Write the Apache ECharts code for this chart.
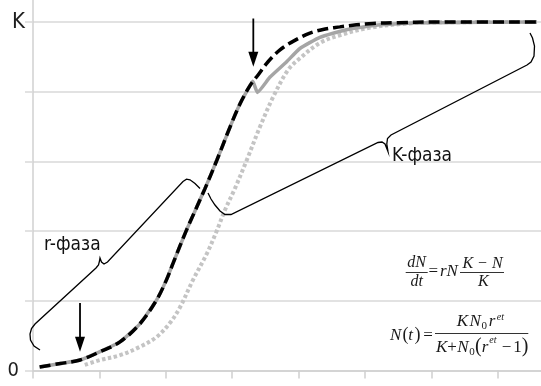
<!DOCTYPE html>
<html>
<head>
<meta charset="utf-8">
<script src="https://cdn.jsdelivr.net/npm/echarts@6/dist/echarts.min.js"></script>
<style>
html,body{margin:0;padding:0;background:#fff;}
#c{width:541px;height:386px;}
</style>
</head>
<body>
<div id="c"></div>
<script>
// ---- data (time units on x, population in units where K = 5) ----
const dashT = [0.1,0.41,0.71,1.01,1.31,1.61,1.86,2.01,2.11,2.31,2.59,2.77,2.97,3.12,3.27,3.39,3.54,3.72,3.95,4.17,4.4,4.62,4.87,5.12,5.5,6.0,7.59];
const dashN = [0.05,0.10,0.15,0.27,0.41,0.67,1.01,1.30,1.54,2.01,2.61,3.02,3.50,3.83,4.09,4.24,4.43,4.60,4.74,4.84,4.90,4.93,4.96,4.98,4.99,5.0,5.0];
const grayT = [0.1,0.41,0.71,1.01,1.31,1.61,1.86,2.01,2.11,2.31,2.59,2.77,2.97,3.12,3.27,3.31,3.38,3.57,3.82,4.02,4.32,4.72,5.23,5.98,7.59];
const grayN = [0.05,0.10,0.15,0.27,0.41,0.67,1.01,1.30,1.54,2.01,2.61,3.02,3.50,3.83,4.09,4.15,3.99,4.21,4.43,4.62,4.78,4.89,4.96,4.99,5.0];
const dotT = [0.78,1.01,1.31,1.61,1.86,2.06,2.21,2.41,2.62,2.77,2.89,3.04,3.22,3.42,3.62,3.84,4.02,4.32,4.62,5.03,5.53,6.13,7.59];
const dotN = [0.08,0.15,0.22,0.34,0.48,0.68,0.90,1.30,1.68,2.01,2.30,2.61,3.02,3.50,3.93,4.31,4.48,4.70,4.81,4.91,4.97,4.995,5.0];
const yTickLabels = {0:'0', 5:'K'};
const phaseLabels = ['r-фаза','K-фаза'];
// arrows: [x, yFrom, yTip]
const arrows = [[3.318,5.05,4.357],[0.708,0.967,0.268]];

const zip = (a,b)=>a.map((v,i)=>[v,b[i]]);
const RFONT = '"Liberation Sans Narrow","DejaVu Sans Condensed","Roboto Condensed",sans-serif';
const SERIF = '"Liberation Serif","DejaVu Serif",serif';

const chart = echarts.init(document.getElementById('c'), null, {renderer:'canvas'});
chart.setOption({
  animation:false,
  backgroundColor:'#fff',
  grid:{left:33,right:-23.2,top:-47.7,bottom:15.5,containLabel:false,outerBoundsMode:'none'},
  xAxis:{type:'value',min:0,max:8,interval:1,
    axisLine:{show:true,lineStyle:{color:'#d0d0d0',width:1.5}},
    axisTick:{show:true,length:8,lineStyle:{color:'#d0d0d0',width:1.5}},
    axisLabel:{show:false},splitLine:{show:false}},
  yAxis:{type:'value',min:0,max:6,interval:1,
    axisLine:{show:true,lineStyle:{color:'#d0d0d0',width:1.5}},
    axisTick:{show:true,length:8,lineStyle:{color:'#d9d9d9',width:1.5}},
    splitLine:{show:true,lineStyle:{color:'#d9d9d9',width:1.5}},
    axisLabel:{margin:8,color:'#1f1f1f',
      formatter:v=> v===5?'{k|'+yTickLabels[5]+'}':(v===0?'{z|'+yTickLabels[0]+'}':''),
      rich:{k:{fontSize:22,fontFamily:RFONT,color:'#1f1f1f'},
            z:{fontSize:20,fontFamily:RFONT,color:'#1f1f1f',padding:[0,6,0,0]}}}},
  series:[
    {type:'line',data:zip(dotT,dotN),symbol:'none',smooth:0.35,
      lineStyle:{color:'#c4c4c4',width:4,type:[3.5,2.5],cap:'butt'}},
    {type:'line',data:zip(grayT,grayN),symbol:'none',smooth:0.15,
      lineStyle:{color:'#a5a5a5',width:3.5}},
    {type:'line',data:zip(dashT,dashN),symbol:'none',smooth:0.35,
      lineStyle:{color:'#000',width:3.5,type:[11,5],cap:'butt'}}
  ]
});

const P = (x,y)=>chart.convertToPixel({gridIndex:0},[x,y]);
const els = [];
arrows.forEach(a=>{
  const s = P(a[0],a[1]), e = P(a[0],a[2]);
  els.push({type:'line',z:100,shape:{x1:s[0],y1:s[1],x2:e[0],y2:e[1]-12},style:{stroke:'#000',lineWidth:1.8}});
  els.push({type:'polygon',z:100,shape:{points:[[e[0],e[1]],[e[0]-5,e[1]-15],[e[0]+5,e[1]-15]]},style:{fill:'#000'}});
});
// braces
const br = {stroke:'#000',lineWidth:1.3,fill:null};
els.push({type:'polyline',z:100,shape:{points:[[40,350],[34,346],[30.5,340],[30,334],[31.5,328.5],[35,324],[96,268],[98.5,265],[99.5,261],[100,258],[101.5,262],[104,264],[107.5,262],[183,181.5],[186.5,179.2],[190,179.8],[195,183.5],[200,188.5]]},style:br});
els.push({type:'polyline',z:100,shape:{points:[[208,193],[211,199],[215,205],[220,211],[225,214.5],[231,214.5],[378,142.5],[382,142],[385,144],[388,151.5],[386.8,144],[387.5,138.5],[391,135],[527,65],[531,62],[534,56],[534.5,46],[532.5,38],[530,33]]},style:br});
// phase labels
els.push({type:'text',z:100,x:44,y:245,style:{text:phaseLabels[0],font:'19px '+RFONT,fill:'#111',align:'left',verticalAlign:'middle'}});
els.push({type:'text',z:100,x:392,y:156,style:{text:phaseLabels[1],font:'19px '+RFONT,fill:'#111',align:'left',verticalAlign:'middle'}});
// formulas
const T = (txt,x,y,size,italic,align)=>els.push({type:'text',z:100,x:x,y:y,style:{text:txt,font:(italic?'italic ':'')+size+'px '+SERIF,fill:'#1a1a1a',align:align||'left',verticalAlign:'middle'}});
const L = (x1,x2,y)=>els.push({type:'line',z:100,shape:{x1:x1,y1:y,x2:x2,y2:y},style:{stroke:'#333',lineWidth:1}});
T('dN',416.7,263,16,true,'center'); L(405.7,427.7,272.5); T('dt',416.7,281.8,16,true,'center');
T('=',428.5,271.8,17,false); T('rN',440,271.8,17,true);
T('K − N',482.5,263.3,16,true,'center'); L(460,504,272.5); T('K',483.3,281.8,16,true,'center');
T('N',390,335.3,17,true); T('(',402.5,335,18,false); T('t',408.3,335.3,17,true); T(')',414.5,335,18,false); T('=',423.3,335.3,17,false);
L(435,528.3,333.5);
T('K',456.7,322,17,true); T('N',469.5,322,17,true); T('0',481.5,326.6,11,false); T('r',488.8,322,17,true); T('et',496.7,317,10,true);
T('K',436,348,17,true); T('+',447.3,348,17,false); T('N',457.3,348,17,true); T('0',469.3,352.6,11,false);
T('(',475,347,20,false); T('r',481.7,348,17,true); T('et',489.3,340.2,10,true); T('−',501.7,348,17,false); T('1',513.3,348,17,false); T(')',521.7,347,20,false);
chart.setOption({graphic:{elements:els}});
</script>
</body>
</html>
